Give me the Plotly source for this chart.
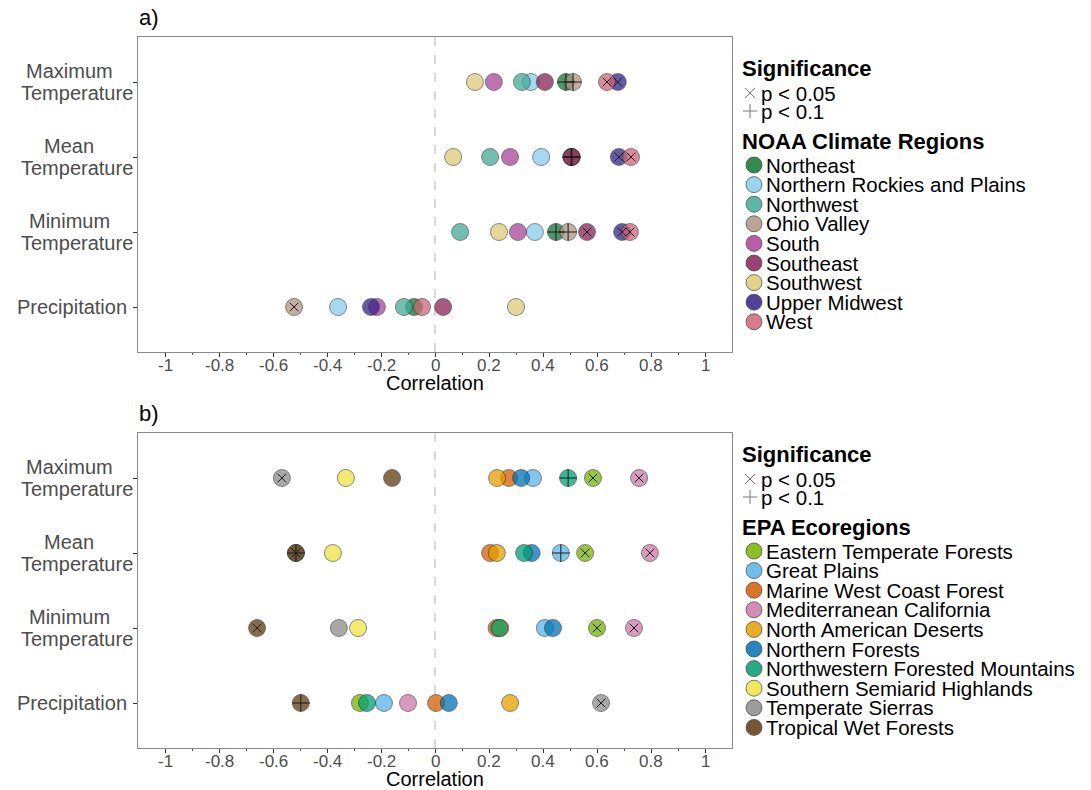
import plotly.graph_objects as go

W, H = 1091, 790

var_line1 = ["Maximum", "Mean", "Minimum", "Precipitation"]
var_line2 = ["Temperature", "Temperature", "Temperature", ""]
var_pos = [4, 3, 2, 1]
x_ticks = [-1, -0.8, -0.6, -0.4, -0.2, 0, 0.2, 0.4, 0.6, 0.8, 1]
x_tick_labels = ["-1", "-0.8", "-0.6", "-0.4", "-0.2", "0", "0.2", "0.4", "0.6", "0.8", "1"]
x_minor = [-0.9, -0.7, -0.5, -0.3, -0.1, 0.1, 0.3, 0.5, 0.7, 0.9]

# ---- Panel a: NOAA climate regions ----
noaa_regions = ["Northeast", "Northern Rockies and Plains", "Northwest", "Ohio Valley", "South",
                "Southeast", "Southwest", "Upper Midwest", "West"]
noaa_colors = ["#117733", "#88CCEE", "#44AA99", "#B09483", "#AA4499",
               "#882255", "#DDCC77", "#332288", "#CC6677"]
noaa_max = [0.485, 0.355, 0.322, 0.511, 0.218, 0.407, 0.148, 0.677, 0.637]
noaa_mean = [0.505, 0.393, 0.204, 0.505, 0.278, 0.507, 0.067, 0.681, 0.726]
noaa_min = [0.448, 0.370, 0.093, 0.493, 0.307, 0.563, 0.237, 0.693, 0.722]
noaa_precip = [-0.078, -0.359, -0.115, -0.522, -0.215, 0.030, 0.300, -0.237, -0.048]
noaa_max_sig = ["+", "", "", "+", "", "", "", "x", "x"]
noaa_mean_sig = ["+", "", "", "+", "", "+", "", "x", "x"]
noaa_min_sig = ["+", "", "", "+", "", "x", "", "x", "x"]
noaa_precip_sig = ["", "", "", "x", "", "", "", "", ""]

# ---- Panel b: EPA ecoregions ----
epa_regions = ["Eastern Temperate Forests", "Great Plains", "Marine West Coast Forest",
               "Mediterranean California", "North American Deserts", "Northern Forests",
               "Northwestern Forested Mountains", "Southern Semiarid Highlands",
               "Temperate Sierras", "Tropical Wet Forests"]
epa_colors = ["#78B400", "#56B4E9", "#D55E00", "#CC79A7", "#E69F00",
              "#0072B2", "#009E73", "#F0E442", "#8C8C8C", "#5E3C10"]
epa_max = [0.585, 0.363, 0.274, 0.756, 0.230, 0.319, 0.493, -0.330, -0.567, -0.159]
epa_mean = [0.556, 0.466, 0.204, 0.796, 0.229, 0.358, 0.330, -0.378, -0.515, -0.515]
epa_min = [0.600, 0.407, 0.228, 0.737, 0.242, 0.437, 0.238, -0.285, -0.356, -0.659]
epa_precip = [-0.278, -0.189, 0.004, -0.100, 0.278, 0.051, -0.252, None, 0.615, -0.497]
epa_max_sig = ["x", "", "", "x", "", "", "+", "", "x", ""]
epa_mean_sig = ["x", "+", "", "x", "", "", "", "", "x", "+"]
epa_min_sig = ["x", "", "", "x", "", "", "", "", "", "x"]
epa_precip_sig = ["", "", "", "", "", "", "", "", "x", "+"]

fig = go.Figure()
FONT = "Liberation Sans"

X0, X1 = 138, 732
panels = [
    dict(xa="x", ya="y", top=37, bot=352, regions=noaa_regions, colors=noaa_colors,
         vals=[noaa_max, noaa_mean, noaa_min, noaa_precip],
         sigs=[noaa_max_sig, noaa_mean_sig, noaa_min_sig, noaa_precip_sig],
         label="a)", legend_title="NOAA Climate Regions"),
    dict(xa="x2", ya="y2", top=433, bot=748, regions=epa_regions, colors=epa_colors,
         vals=[epa_max, epa_mean, epa_min, epa_precip],
         sigs=[epa_max_sig, epa_mean_sig, epa_min_sig, epa_precip_sig],
         label="b)", legend_title="EPA Ecoregions"),
]

MS = 17
for p in panels:
    for i, (reg, col) in enumerate(zip(p["regions"], p["colors"])):
        xs = [v[i] for v in p["vals"]]
        fig.add_trace(go.Scatter(
            x=xs, y=var_pos, xaxis=p["xa"], yaxis=p["ya"], mode="markers", name=reg,
            showlegend=False,
            marker=dict(symbol="circle", size=MS, color=col, opacity=0.75,
                        line=dict(color="#222222", width=0.7))))
    for sym, key, size in [("x-thin", "x", 8.6), ("cross-thin", "+", 12.5)]:
        sx, sy = [], []
        for vals, sigs, yp in zip(p["vals"], p["sigs"], var_pos):
            for v, s in zip(vals, sigs):
                if s == key and v is not None:
                    sx.append(v)
                    sy.append(yp)
        fig.add_trace(go.Scatter(
            x=sx, y=sy, xaxis=p["xa"], yaxis=p["ya"], mode="markers", showlegend=False,
            marker=dict(symbol=sym, size=size, color="#1a1a1a",
                        line=dict(color="#1a1a1a", width=1))))

# ---- overlay axis mapped to pixels (for labels and legends) ----
fig.update_layout(
    xaxis3=dict(domain=[0, 1], range=[0, W], visible=False, fixedrange=True, anchor="y3"),
    yaxis3=dict(domain=[0, 1], range=[H, 0], visible=False, fixedrange=True, anchor="x3"),
)

# ---- axes ----
axis_common = dict(showgrid=False, zeroline=False, showline=True, mirror=True,
                   linecolor="#8a8a8a", linewidth=1)
for p, xk, yk in [(panels[0], "xaxis", "yaxis"), (panels[1], "xaxis2", "yaxis2")]:
    fig.update_layout(**{
        xk: dict(domain=[X0 / W, X1 / W], range=[-1.1, 1.1], anchor=p["ya"],
                 tickvals=x_ticks, showticklabels=False, ticks="outside", ticklen=4,
                 tickcolor="#333333", tickwidth=1,
                 minor=dict(tickvals=x_minor, ticks="outside", ticklen=2, tickcolor="#555555"),
                 automargin=False, **axis_common),
        yk: dict(domain=[1 - p["bot"] / H, 1 - p["top"] / H], range=[0.4, 4.6], anchor=p["xa"],
                 tickvals=var_pos, showticklabels=False, ticks="outside", ticklen=4,
                 tickcolor="#333333", tickwidth=1, automargin=False, **axis_common),
    })
    # zero line
    fig.add_shape(type="line", xref=p["xa"], yref=p["ya"] + " domain", x0=0, x1=0, y0=0, y1=1,
                  line=dict(color="#c0c0c0", width=1.2, dash="dash"), layer="below")
    # x tick labels
    for v, lab in zip(x_ticks, x_tick_labels):
        fig.add_annotation(text=lab, x=v, xref=p["xa"], y=p["bot"] + 13, yref="y3",
                           xanchor="center", yanchor="middle", showarrow=False,
                           font=dict(family=FONT, size=17, color="#4d4d4d"))
    # y tick labels
    row_h = (p["bot"] - p["top"]) / 4.2
    for l1, l2, yp in zip(var_line1, var_line2, var_pos):
        yc = p["bot"] - (yp - 0.4) * row_h
        if l2:
            fig.add_annotation(text=l1, x=69, y=yc - 11, xref="x3", yref="y3", xanchor="center",
                               yanchor="middle", showarrow=False,
                               font=dict(family=FONT, size=20, color="#4d4d4d"))
            fig.add_annotation(text=l2, x=76.5, y=yc + 11, xref="x3", yref="y3", xanchor="center",
                               yanchor="middle", showarrow=False,
                               font=dict(family=FONT, size=20, color="#4d4d4d"))
        else:
            fig.add_annotation(text=l1, x=129, y=yc, xref="x3", yref="y3", xanchor="right",
                               yanchor="middle", showarrow=False,
                               font=dict(family=FONT, size=20, color="#4d4d4d"))
    # axis title
    fig.add_annotation(text="Correlation", x=(X0 + X1) / 2, xref="x3",
                       y=p["bot"] + 31, yref="y3", yanchor="middle",
                       showarrow=False, font=dict(family=FONT, size=20, color="black"))
    # panel tag
    fig.add_annotation(text=p["label"], x=X0 - 1, xref="x3", xanchor="left",
                       y=p["top"] - 20, yref="y3", yanchor="middle",
                       showarrow=False, font=dict(family=FONT, size=22, color="black"))

# ---- manual legends ----
legend_specs = [(panels[0], 68), (panels[1], 454)]
for p, ytop in legend_specs:
    txt_font = dict(family=FONT, size=20.5, color="black")
    ttl_font = dict(family=FONT, size=22, color="black")
    fig.add_annotation(text="<b>Significance</b>", x=740, y=ytop, xref="x3", yref="y3",
                       xanchor="left", yanchor="middle", showarrow=False, font=ttl_font)
    sig_y = [ytop + 25, ytop + 43]
    fig.add_trace(go.Scatter(x=[750], y=[sig_y[0]], xaxis="x3", yaxis="y3", mode="markers",
                             showlegend=False, hoverinfo="skip",
                             marker=dict(symbol="x-thin", size=10, color="#777777",
                                         line=dict(color="#777777", width=1))))
    fig.add_trace(go.Scatter(x=[750], y=[sig_y[1]], xaxis="x3", yaxis="y3", mode="markers",
                             showlegend=False, hoverinfo="skip",
                             marker=dict(symbol="cross-thin", size=10, color="#777777",
                                         line=dict(color="#777777", width=1))))
    for t, yy in zip(["p < 0.05", "p < 0.1"], sig_y):
        fig.add_annotation(text=t, x=759, y=yy, xref="x3", yref="y3", xanchor="left",
                           yanchor="middle", showarrow=False, font=txt_font)
    fig.add_annotation(text="<b>" + p["legend_title"] + "</b>", x=740, y=ytop + 73,
                       xref="x3", yref="y3", xanchor="left", yanchor="middle",
                       showarrow=False, font=ttl_font)
    item_y = [ytop + 97 + 19.6 * i for i in range(len(p["regions"]))]
    fig.add_trace(go.Scatter(x=[754] * len(item_y), y=item_y, xaxis="x3", yaxis="y3",
                             mode="markers", showlegend=False, hoverinfo="skip",
                             marker=dict(symbol="circle", size=16, color=p["colors"], opacity=0.85,
                                         line=dict(color="#222222", width=0.7))))
    for reg, yy in zip(p["regions"], item_y):
        fig.add_annotation(text=reg, x=764, y=yy, xref="x3", yref="y3", xanchor="left",
                           yanchor="middle", showarrow=False, font=txt_font)

fig.update_layout(width=W, height=H, margin=dict(l=0, r=0, t=0, b=0, pad=0),
                  paper_bgcolor="white", plot_bgcolor="rgba(0,0,0,0)", showlegend=False,
                  font=dict(family=FONT))

fig.write_html("out.html", config={"displayModeBar": False},
               post_script="document.body.style.margin='0px';document.body.style.padding='0px';")
